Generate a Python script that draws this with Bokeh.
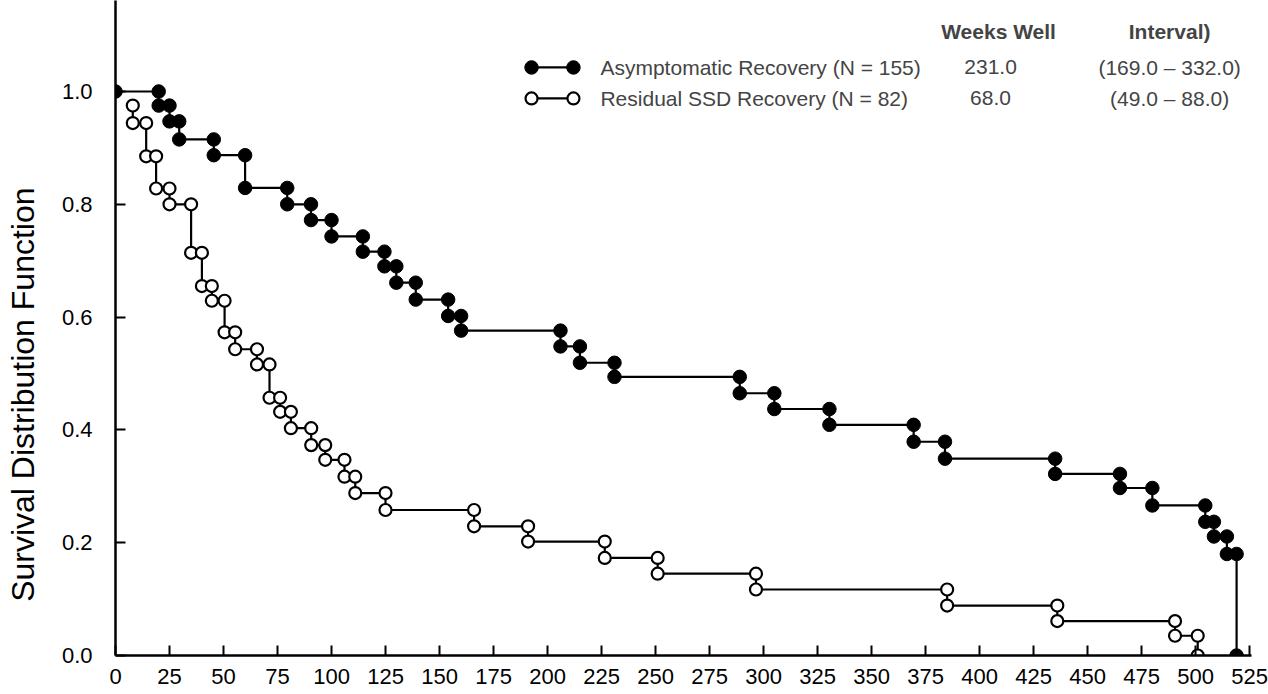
from bokeh.plotting import figure
from bokeh.models import Range1d, FixedTicker, Label
from bokeh.embed import file_html
from bokeh.resources import INLINE

# ---------------- data ----------------
# Asymptomatic Recovery (N = 155): starts at S = 1.0 at week 0
asym_start_time = 0
asym_start_surv = 1.0
asym_times = [20, 25, 29.5, 45.5, 60, 79.5, 90.5, 100, 114.5, 124.5, 130, 139,
              154, 160, 206, 215, 231, 289, 305, 330.5, 369.5, 384, 435, 465,
              480, 504.5, 508.5, 514.5, 519]
asym_surv = [0.975, 0.947, 0.915, 0.887, 0.829, 0.800, 0.772, 0.743, 0.716,
             0.690, 0.661, 0.631, 0.602, 0.576, 0.548, 0.519, 0.494, 0.465,
             0.437, 0.409, 0.379, 0.349, 0.322, 0.297, 0.266, 0.237, 0.211,
             0.180, 0.0]

# Residual SSD Recovery (N = 82): first drawn point at its first event
resid_first_surv = 0.975
resid_times = [8, 14.2, 18.8, 25, 35, 40, 44.6, 50.5, 55.4, 65.5, 71.3, 76.2,
               81.2, 90.6, 97.1, 106, 111, 125, 166, 191, 226.5, 251, 296.5,
               385, 436, 490.5, 501]
resid_surv = [0.944, 0.885, 0.828, 0.800, 0.714, 0.655, 0.629, 0.573, 0.543,
              0.516, 0.457, 0.432, 0.403, 0.373, 0.347, 0.317, 0.288, 0.258,
              0.229, 0.202, 0.173, 0.145, 0.117, 0.0885, 0.061, 0.035, 0.0]

x_ticks = [0, 25, 50, 75, 100, 125, 150, 175, 200, 225, 250, 275, 300, 325,
           350, 375, 400, 425, 450, 475, 500, 525]
y_ticks = [0.0, 0.2, 0.4, 0.6, 0.8, 1.0]
y_tick_labels = ["0.0", "0.2", "0.4", "0.6", "0.8", "1.0"]

legend_names = ["Asymptomatic Recovery (N = 155)", "Residual SSD Recovery (N = 82)"]
legend_weeks = ["231.0", "68.0"]
legend_interval = ["(169.0 \u2013 332.0)", "(49.0 \u2013 88.0)"]
header_weeks = "Weeks Well"
header_interval = "Interval)"
y_title = "Survival Distribution Function"


def step_points(t0, s0, times, survs):
    xs, ys = [t0], [s0]
    prev = s0
    for t, s in zip(times, survs):
        if t != xs[-1]:
            xs.append(t); ys.append(prev)
        xs.append(t); ys.append(s)
        prev = s
    return xs, ys


FONT = "Liberation Sans"

p = figure(width=1268, height=694, output_backend="svg", toolbar_location=None,
           x_range=Range1d(0, 525.9), y_range=Range1d(0, 1.1613),
           min_border_left=115, min_border_right=17, min_border_top=0,
           min_border_bottom=39)
p.outline_line_color = None
p.xgrid.visible = False
p.ygrid.visible = False
p.background_fill_color = "white"
p.border_fill_color = "white"

for ax in (p.xaxis, p.yaxis):
    ax.axis_line_width = 2.5
    ax.axis_line_color = "black"
    ax.major_tick_line_width = 2
    ax.major_tick_line_color = "black"
    ax.major_tick_in = 10
    ax.major_tick_out = 0
    ax.minor_tick_line_color = None
    ax.major_label_text_font = FONT
    ax.major_label_text_font_size = "22px"
    ax.major_label_text_color = "black"

p.xaxis.ticker = FixedTicker(ticks=x_ticks)
p.xaxis.major_label_standoff = 13
p.yaxis.ticker = FixedTicker(ticks=y_ticks)
p.yaxis.major_label_overrides = {t: l for t, l in zip(y_ticks, y_tick_labels)}
p.yaxis.major_label_standoff = 23

# y axis title: trailing no-break spaces shift the visible text downwards
p.yaxis.axis_label = y_title + "\u00a0" * 15
p.yaxis.axis_label_text_font = FONT
p.yaxis.axis_label_text_font_size = "32px"
p.yaxis.axis_label_text_font_style = "normal"
p.yaxis.axis_label_text_color = "black"
p.yaxis.axis_label_standoff = 18

# curves
ax_x, ax_y = step_points(asym_start_time, asym_start_surv, asym_times, asym_surv)
rx, ry = step_points(resid_times[0], resid_first_surv, resid_times, resid_surv)

p.line(ax_x, ax_y, line_color="black", line_width=2.2)
p.line(rx, ry, line_color="black", line_width=2.2)
p.scatter(ax_x, ax_y, marker="circle", size=13.5, fill_color="black",
          line_color="black", line_width=1)
p.scatter(rx, ry, marker="circle", size=12, fill_color="white",
          line_color="black", line_width=2.2)

# legend table (layout positions)
leg_mk_x = [192.6, 212.0]
leg_row_y = [1.0426, 0.9876]
leg_text_x = 224.5
leg_weeks_x = 405.1
leg_int_x = 488.0
leg_head_y = 1.1064

for i in range(2):
    p.line(leg_mk_x, [leg_row_y[i]] * 2, line_color="black", line_width=2.2)
    if i == 0:
        p.scatter(leg_mk_x, [leg_row_y[i]] * 2, marker="circle", size=13.5,
                  fill_color="black", line_color="black")
    else:
        p.scatter(leg_mk_x, [leg_row_y[i]] * 2, marker="circle", size=12,
                  fill_color="white", line_color="black", line_width=2.2)
    p.add_layout(Label(x=leg_text_x, y=leg_row_y[i], text=legend_names[i],
                       text_align="left", text_baseline="middle",
                       text_font=FONT, text_font_size="21px"))
    p.add_layout(Label(x=leg_weeks_x, y=leg_row_y[i], text=legend_weeks[i],
                       text_align="center", text_baseline="middle",
                       text_font=FONT, text_font_size="21px"))
    p.add_layout(Label(x=leg_int_x, y=leg_row_y[i], text=legend_interval[i],
                       text_align="center", text_baseline="middle",
                       text_font=FONT, text_font_size="21px"))

p.add_layout(Label(x=leg_weeks_x + 3.7, y=leg_head_y, text=header_weeks,
                   text_align="center", text_baseline="middle",
                   text_font=FONT, text_font_size="21px", text_font_style="bold"))
p.add_layout(Label(x=leg_int_x, y=leg_head_y, text=header_interval,
                   text_align="center", text_baseline="middle",
                   text_font=FONT, text_font_size="21px", text_font_style="bold"))

open("out.html", "w").write(file_html(p, INLINE))
